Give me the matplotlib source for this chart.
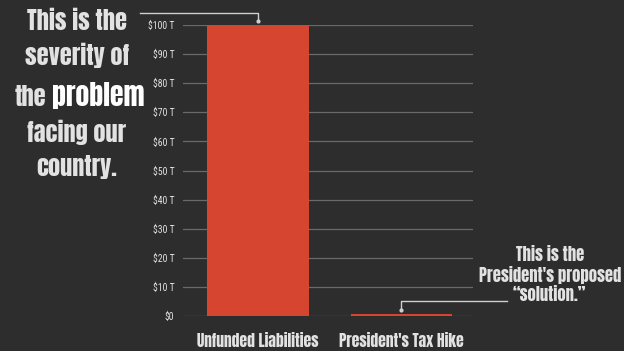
import matplotlib.pyplot as plt
from matplotlib.ticker import FuncFormatter

# data (trillions of dollars)
categories = ["Unfunded Liabilities", "President's Tax Hike"]
values = [100, 0.8]

bg = "#2d2d2d"
bar_color = "#d5452f"
txt = "#e2e2e2"
cond = ["Anton", "DejaVu Sans"]

fig = plt.figure(figsize=(6.24, 3.51), dpi=100, facecolor=bg)
ax = fig.add_axes([0.293, 0.0997, 0.465, 0.829], facecolor=bg)

x = range(len(categories))
ax.bar(x, values, width=0.71, color=bar_color, zorder=3)
ax.set_xlim(-0.523, 1.498)
ax.set_ylim(0, 100)
ax.set_yticks(range(0, 101, 10))
ax.yaxis.set_major_formatter(FuncFormatter(lambda v, p: "$0" if v == 0 else "$%d T" % v))
ax.grid(axis="y", color="#6a6a6a", linewidth=0.9, zorder=0)
for s in ax.spines.values():
    s.set_visible(False)
ax.tick_params(axis="y", length=0, pad=6, labelsize=7, labelcolor=txt)
for lab in ax.get_yticklabels():
    lab.set_family(["Roboto Condensed", "DejaVu Sans"])
ax.set_xticks(list(x))
ax.set_xticklabels(categories, family=cond, fontsize=11.2, color=txt)
ax.tick_params(axis="x", length=0, pad=12)

# connector lines
ax.plot([-0.823, 0, 0], [104.1, 104.1, 101.4], color="#cfcfcf", lw=1, clip_on=False)
ax.plot([0], [101.4], marker="o", ms=2, color="#cfcfcf", clip_on=False)
ax.plot([1.735, 1, 1], [5.2, 5.2, 2.1], color="#cfcfcf", lw=1, clip_on=False)
ax.plot([1], [2.1], marker="o", ms=2, color="#cfcfcf", clip_on=False)

# left text block
left_lines = ["This is the", "severity of", None, "facing our", "country."]
ys = [0.94, 0.843, 0.724, 0.622, 0.524]
for line, yy in zip(left_lines, ys):
    if line:
        fig.text(0.123, yy, line, ha="center", va="center", fontsize=17.5,
                 family=cond, color=txt)
fig.text(0.074, 0.724, "the", ha="right", va="center", fontsize=17.5,
         family=cond, color=txt)
fig.text(0.083, 0.727, "problem", ha="left", va="center", fontsize=20,
         family=cond, color="white")

# right annotation text
for line, yy in zip(["This is the", "President's proposed", "\u201csolution.\u201d"],
                    [0.274, 0.217, 0.162]):
    fig.text(0.881, yy, line, ha="center", va="center", fontsize=12,
             family=cond, color=txt)

plt.savefig("out.png", dpi=100, facecolor=bg)
